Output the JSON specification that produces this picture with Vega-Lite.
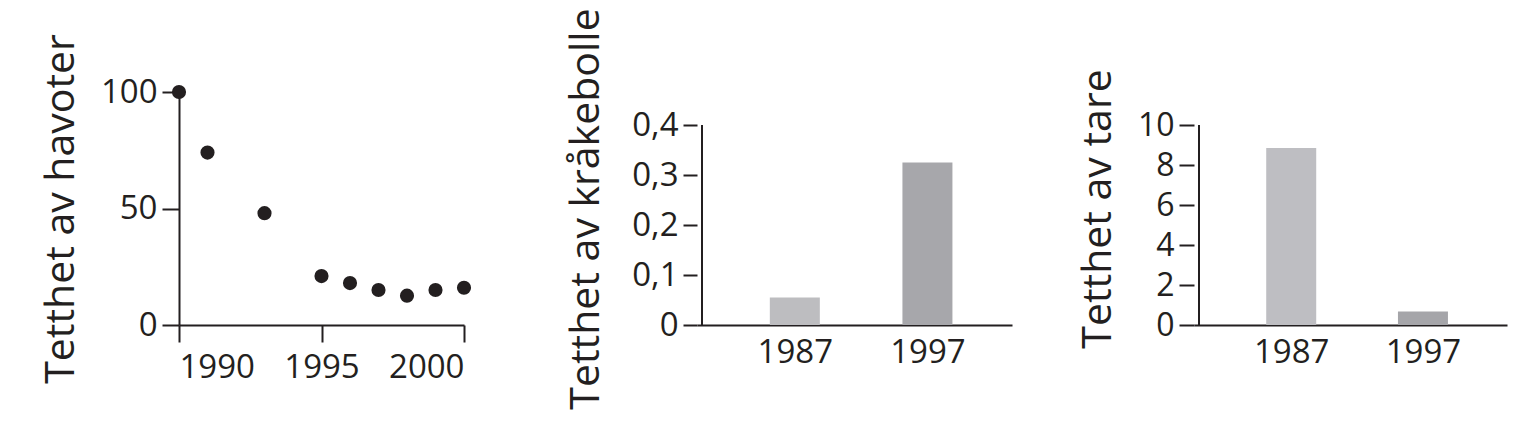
{
  "$schema": "https://vega.github.io/schema/vega-lite/v6.json",
  "background": "white",
  "padding": {"left": 40, "top": 7, "right": 10, "bottom": 5},
  "spacing": 93,
  "config": {
    "view": {"stroke": null},
    "font": "Open Sans",
    "axis": {
      "domainColor": "#231f20",
      "domainWidth": 2,
      "tickColor": "#231f20",
      "tickWidth": 2,
      "labelColor": "#231f20",
      "titleColor": "#231f20",
      "labelFont": "Open Sans",
      "titleFont": "Open Sans",
      "labelFontSize": 33,
      "titleFontSize": 41,
      "titleFontWeight": "normal",
      "grid": false
    }
  },
  "hconcat": [
    {
      "width": 285,
      "height": 233,
      "data": {
        "values": [
          {"year": 1990, "density": 100},
          {"year": 1991, "density": 74},
          {"year": 1993, "density": 48},
          {"year": 1995, "density": 21},
          {"year": 1996, "density": 18},
          {"year": 1997, "density": 15},
          {"year": 1998, "density": 12.6},
          {"year": 1999, "density": 15},
          {"year": 2000, "density": 16}
        ]
      },
      "mark": {"type": "circle", "size": 200, "color": "#231f20", "opacity": 1},
      "encoding": {
        "x": {
          "field": "year",
          "type": "quantitative",
          "scale": {"domain": [1990, 2000], "nice": false, "zero": false},
          "axis": {"values": [1990, 1995, 2000], "format": "d", "title": null, "tickSize": 17, "labelPadding": 9}
        },
        "y": {
          "field": "density",
          "type": "quantitative",
          "scale": {"domain": [0, 100], "nice": false},
          "axis": {"values": [0, 50, 100], "title": "Tetthet av havoter", "tickSize": 17, "labelPadding": 5, "titlePadding": 18}
        }
      }
    },
    {
      "spacing": 65,
      "hconcat": [
        {
          "width": 315,
          "height": 233,
          "data": {
            "values": [
              {"year": 1987, "density": 0.055},
              {"year": 1997, "density": 0.325}
            ]
          },
          "layer": [
            {
              "mark": {"type": "bar", "width": 50},
              "encoding": {
                "x": {
                  "field": "year",
                  "type": "quantitative",
                  "scale": {"domain": [1980, 2003], "nice": false, "zero": false},
                  "axis": {"values": [1987, 1997], "format": "d", "title": null, "ticks": false, "labelPadding": 11}
                },
                "y": {
                  "field": "density",
                  "type": "quantitative",
                  "scale": {"domain": [0, 0.466], "nice": false},
                  "axis": {
                    "values": [0, 0.1, 0.2, 0.3, 0.4],
                    "labelExpr": "datum.value == 0 ? '0' : replace(format(datum.value, '.1f'), '.', ',')",
                    "domain": false,
                    "title": "Tetthet av kråkebolle",
                    "tickSize": 14,
                    "labelPadding": 5,
                    "titlePadding": 24
                  }
                },
                "color": {
                  "field": "year",
                  "type": "nominal",
                  "scale": {"domain": [1987, 1997], "range": ["#bdbdc0", "#a7a7ab"]},
                  "legend": null
                }
              }
            },
            {
              "mark": {"type": "rule", "color": "#231f20", "strokeWidth": 2},
              "encoding": {
                "x": {"datum": 1980, "type": "quantitative"},
                "y": {"datum": 0, "type": "quantitative"},
                "y2": {"datum": 0.4}
              }
            }
          ]
        },
        {
          "width": 313,
          "height": 233,
          "data": {
            "values": [
              {"year": 1987, "density": 8.85},
              {"year": 1997, "density": 0.67}
            ]
          },
          "layer": [
            {
              "mark": {"type": "bar", "width": 50},
              "encoding": {
                "x": {
                  "field": "year",
                  "type": "quantitative",
                  "scale": {"domain": [1980, 2003], "nice": false, "zero": false},
                  "axis": {"values": [1987, 1997], "format": "d", "title": null, "ticks": false, "labelPadding": 11}
                },
                "y": {
                  "field": "density",
                  "type": "quantitative",
                  "scale": {"domain": [0, 11.65], "nice": false},
                  "axis": {
                    "values": [0, 2, 4, 6, 8, 10],
                    "domain": false,
                    "title": "Tetthet av tare",
                    "tickSize": 15,
                    "labelPadding": 5,
                    "labelFontSize": 32,
                    "titlePadding": 18
                  }
                },
                "color": {
                  "field": "year",
                  "type": "nominal",
                  "scale": {"domain": [1987, 1997], "range": ["#bebec2", "#a5a5a9"]},
                  "legend": null
                }
              }
            },
            {
              "mark": {"type": "rule", "color": "#231f20", "strokeWidth": 2},
              "encoding": {
                "x": {"datum": 1980, "type": "quantitative"},
                "y": {"datum": 0, "type": "quantitative"},
                "y2": {"datum": 10}
              }
            }
          ]
        }
      ],
      "resolve": {"scale": {"color": "independent"}}
    }
  ],
  "resolve": {"scale": {"color": "independent"}}
}
